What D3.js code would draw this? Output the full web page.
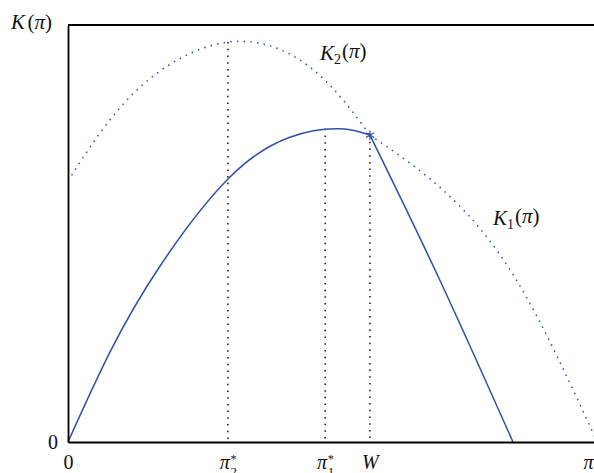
<!DOCTYPE html>
<html lang="en">
<head>
<meta charset="utf-8">
<title>K(pi)</title>
<script src="https://d3js.org/d3.v7.min.js"></script>
<style>
  body { margin: 0; background: #fff; }
  text { font-family: "Liberation Serif", "DejaVu Serif", serif; fill: #111; }
</style>
</head>
<body>
<div id="chart"></div>
<script>
var w = 594, h = 473;
var margin = {left: 68, right: 0, top: 25, bottom: 31};

// curve readings, pi on 0..100, K on 0..100
var k1LeftX  = [0, 8.0, 17.5, 30.6, 42.2, 51.7, 57.4];
var k1LeftY  = [0, 21.6, 42.2, 63.3, 73.1, 75.1, 73.6];
var k1RightX = [57.4, 70.7, 84.6];
var k1RightY = [73.6, 38.8, 0];
var k2LeftX  = [0, 13.1, 30.4, 46.0, 57.4];
var k2LeftY  = [62.6, 84.4, 95.9, 89.9, 73.6];
var k2RightX = [57.4, 71.3, 85.6, 100.6];
var k2RightY = [73.6, 60.4, 38.1, 0];

var markX = [30.4, 48.9, 57.4];   // pi2*, pi1*, W
var markY = [95.9, 75.1, 73.6];

var xTickVals = [0, 30.4, 48.9, 57.4, 100];
var xTickLabels = [["0"], ["π", "*", "2"], ["π", "*", "1"], ["W"], ["π"]];

var svg = d3.select("#chart").append("svg")
  .attr("width", w).attr("height", h);

var x = d3.scaleLinear().domain([0, 100]).range([margin.left, w - margin.right]);
var y = d3.scaleLinear().domain([0, 100]).range([h - margin.bottom, margin.top]);

function pts(xs, ys) { return xs.map(function(v, i) { return [v, ys[i]]; }); }

var line = d3.line()
  .x(function(d) { return x(d[0]); })
  .y(function(d) { return y(d[1]); })
  .curve(d3.curveNatural);

var blue = "#2f4fa8";

// vertical dotted guides
svg.selectAll(".guide")
  .data(markX)
  .enter().append("line")
  .attr("class", "guide")
  .attr("x1", function(d) { return x(d); })
  .attr("x2", function(d) { return x(d); })
  .attr("y1", function(d, i) { return y(markY[i]); })
  .attr("y2", y(0))
  .attr("stroke", "#111")
  .attr("stroke-width", 1.5)
  .attr("stroke-dasharray", "1.5,5.2");

// dotted curves
[pts(k2LeftX, k2LeftY), pts(k2RightX, k2RightY)].forEach(function(p) {
  svg.append("path")
    .attr("d", line(p))
    .attr("fill", "none")
    .attr("stroke", blue)
    .attr("stroke-width", 1.5)
    .attr("stroke-dasharray", "1.5,5.2");
});

// solid curves
[pts(k1LeftX, k1LeftY), pts(k1RightX, k1RightY)].forEach(function(p) {
  svg.append("path")
    .attr("d", line(p))
    .attr("fill", "none")
    .attr("stroke", blue)
    .attr("stroke-width", 1.5);
});

// star at W
svg.append("path")
  .attr("d", d3.symbol().type(d3.symbolAsterisk).size(60)())
  .attr("transform", "translate(" + x(markX[2]) + "," + y(markY[2]) + ")")
  .attr("fill", "none")
  .attr("stroke", blue)
  .attr("stroke-width", 1.2);

// frame
svg.append("line")
  .attr("x1", x(0)).attr("x2", x(100))
  .attr("y1", y(100)).attr("y2", y(100))
  .attr("stroke", "#000").attr("stroke-width", 1.8);

var xAxis = svg.append("g")
  .attr("transform", "translate(0," + y(0) + ")")
  .call(d3.axisBottom(x).tickValues(xTickVals).tickSize(0).tickSizeOuter(0).tickPadding(13));
var yAxis = svg.append("g")
  .attr("transform", "translate(" + x(0) + ",0)")
  .call(d3.axisLeft(y).tickValues([0]).tickSize(0).tickSizeOuter(0).tickPadding(10));

[xAxis, yAxis].forEach(function(g) {
  g.select(".domain").attr("stroke", "#000").attr("stroke-width", 1.8);
  g.selectAll("text").attr("font-family", "Liberation Serif").attr("font-size", 20).attr("fill", "#111");
});
yAxis.selectAll("text").attr("dy", "0.32em");

xAxis.selectAll(".tick text").each(function(d, i) {
  var t = d3.select(this).text(null).attr("dy", "0.71em");
  var lab = xTickLabels[i];
  var main = lab[0];
  var isNum = main === "0";
  if (i === xTickLabels.length - 1) t.attr("text-anchor", "end").attr("x", -1);
  t.append("tspan").attr("font-style", isNum ? "normal" : "italic").text(main);
  if (lab.length > 1) {
    t.append("tspan").attr("font-size", 12).attr("dy", "-0.5em").attr("dx", "0.05em").text(lab[1]);
    t.append("tspan").attr("font-size", 13).attr("dx", "-0.45em").attr("dy", "0.95em").text(lab[2]);
  }
});

// curve labels
function kLabel(px, py, sub) {
  var t = svg.append("text").attr("x", px).attr("y", py).attr("font-size", 21);
  t.append("tspan").attr("font-style", "italic").text("K");
  if (sub) t.append("tspan").attr("font-size", 14).attr("dy", "0.25em").text(sub);
  t.append("tspan").attr("dy", sub ? "-0.25em" : 0).attr("dx", sub ? "0.05em" : "0.12em").text("(");
  t.append("tspan").attr("font-style", "italic").text("π");
  t.append("tspan").text(")");
}
kLabel(11, 29, null);
kLabel(320, 60, "2");
kLabel(493, 225, "1");
</script>
</body>
</html>
